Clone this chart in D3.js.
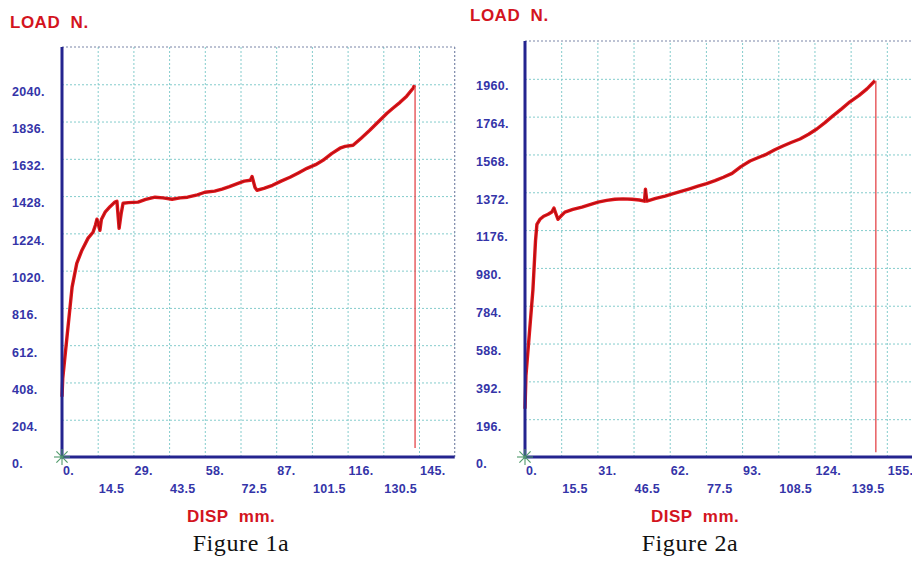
<!DOCTYPE html>
<html>
<head>
<meta charset="utf-8">
<script src="https://cdn.jsdelivr.net/npm/d3@7/dist/d3.min.js"></script>
<style>
  html, body { margin: 0; padding: 0; background: #ffffff; }
  svg { display: block; }
</style>
</head>
<body>
<svg id="chart" width="912" height="561"></svg>
<script>
// ---------- DATA ----------
// Figure 1a
const fig1Disp = [0, 0.3, 4.1, 6, 8.1, 10.6, 12.6, 13.6, 14.2, 15.4, 16, 17.5, 19.5, 21.5, 22.3, 23.2, 24, 24.8, 27, 30.9,
  34, 37.8, 41, 44.7, 48, 51, 55, 58, 62, 65, 68, 71.5, 74, 76.5, 77.2, 78.4, 79.2, 82, 85.5, 89,
  92.6, 96, 99.5, 103, 106, 109.5, 112.9, 115, 118.2, 121.5, 125, 128.5, 132, 134.5, 137.3, 140, 142.6, 143.2];
const fig1Load = [330, 430, 930, 1060, 1132, 1198, 1230, 1270, 1302, 1241, 1300, 1340, 1370, 1395, 1400, 1252, 1330, 1389, 1392, 1395,
  1410, 1422, 1418, 1411, 1418, 1422, 1435, 1449, 1455, 1466, 1480, 1498, 1510, 1515, 1535, 1475, 1460, 1470, 1487, 1510,
  1531, 1555, 1580, 1600, 1624, 1660, 1690, 1700, 1706, 1745, 1788, 1835, 1881, 1910, 1941, 1975, 2018, 2035];
const fig1DropDisp = [143.4, 143.4];
const fig1DropLoad = [2035, 49];
const fig1XTicks = [0, 14.5, 29, 43.5, 58, 72.5, 87, 101.5, 116, 130.5, 145];
const fig1YTicks = [0, 204, 408, 612, 816, 1020, 1224, 1428, 1632, 1836, 2040];
const fig1XMax = 159.5, fig1YMax = 2244;

// Figure 2a
const fig2Disp = [0, 0.4, 3.4, 4.5, 5.1, 6.4, 8, 9.9, 11.5, 12.4, 13.2, 14.1, 15.5, 17.1, 20.5, 24.4, 27.8, 31.3, 35, 38.5,
  42, 45.8, 49, 51.2, 51.6, 52.2, 56, 60, 63.5, 67.2, 70.5, 74.1, 77.8, 81.4, 85, 88.7, 92.5, 96.4, 100, 103.6,
  107, 110.5, 114, 117.8, 121.5, 125, 128.5, 131.9, 135.5, 139.2, 143, 146.5, 149.9];
const fig2Load = [250, 420, 868, 1120, 1206, 1232, 1248, 1258, 1270, 1290, 1262, 1232, 1250, 1269, 1283, 1295, 1308, 1321, 1330, 1336,
  1338, 1336, 1332, 1326, 1388, 1326, 1340, 1352, 1365, 1378, 1390, 1404, 1417, 1432, 1450, 1470, 1505, 1534, 1552, 1570,
  1592, 1612, 1630, 1648, 1673, 1700, 1733, 1768, 1803, 1841, 1873, 1908, 1950];
const fig2DropDisp = [150.3, 150.3];
const fig2DropLoad = [1950, 25];
const fig2XTicks = [0, 15.5, 31, 46.5, 62, 77.5, 93, 108.5, 124, 139.5, 155];
const fig2YTicks = [0, 196, 392, 588, 784, 980, 1176, 1372, 1568, 1764, 1960];
const fig2XMax = 170.5, fig2YMax = 2156;

const yTitle = "LOAD  N.";
const xTitle = "DISP  mm.";
const captions = ["Figure 1a", "Figure 2a"];

// ---------- DRAW ----------
const svg = d3.select("#chart");
const fmt = v => Number.isInteger(v) ? v + "." : String(v);

const AXIS = "#24248f", TICK = "#3434a8", RED = "#d3141e", GRID = "#84cccc";
const SANS = "Arial, 'Liberation Sans', sans-serif";

function panel(cfg) {
  const x = d3.scaleLinear().domain([0, cfg.xMax]).range([cfg.left, cfg.right]);
  const y = d3.scaleLinear().domain([0, cfg.yMax]).range([cfg.bottom, cfg.top]);
  const g = svg.append("g");

  // grid via d3 axes
  g.append("g").attr("transform", `translate(0,${cfg.bottom})`)
    .call(d3.axisBottom(x).tickValues(cfg.xTicks.slice(1)).tickSize(-(cfg.bottom - cfg.top)).tickFormat(""))
    .call(a => a.select(".domain").remove())
    .call(a => a.selectAll("line").attr("stroke", GRID).attr("stroke-dasharray", "2,2").attr("stroke-width", 1));
  g.append("g").attr("transform", `translate(${cfg.left},0)`)
    .call(d3.axisLeft(y).tickValues(cfg.yTicks.slice(1)).tickSize(-(cfg.right - cfg.left)).tickFormat(""))
    .call(a => a.select(".domain").remove())
    .call(a => a.selectAll("line").attr("stroke", GRID).attr("stroke-dasharray", "2,2").attr("stroke-width", 1));

  // top & right dotted border
  g.append("line").attr("x1", x(0)).attr("x2", x(cfg.xMax)).attr("y1", y(cfg.yMax)).attr("y2", y(cfg.yMax))
    .attr("stroke", "#7a86a8").attr("stroke-dasharray", "2,2").attr("stroke-width", 1.2);
  g.append("line").attr("x1", x(cfg.xMax)).attr("x2", x(cfg.xMax)).attr("y1", y(cfg.yMax)).attr("y2", y(0))
    .attr("stroke", "#7a86a8").attr("stroke-dasharray", "2,2").attr("stroke-width", 1.2);

  // curve
  const pts = cfg.disp.map((d, i) => [d, cfg.load[i]]);
  const line = d3.line().x(d => x(d[0])).y(d => y(d[1]));
  g.append("path").datum(pts).attr("d", line).attr("fill", "none")
    .attr("stroke", "#e0161c").attr("stroke-width", 3.4).attr("stroke-linejoin", "round");
  g.append("path").datum(pts).attr("d", line).attr("fill", "none")
    .attr("stroke", "#8a0808").attr("stroke-width", 0.9).attr("stroke-opacity", 0.7);
  const drop = cfg.dropDisp.map((d, i) => [d, cfg.dropLoad[i]]);
  g.append("path").datum(drop).attr("d", line).attr("fill", "none")
    .attr("stroke", "#e4464a").attr("stroke-width", 1.3);

  // axes lines
  g.append("line").attr("x1", x(0)).attr("x2", x(cfg.xMax)).attr("y1", y(0)).attr("y2", y(0))
    .attr("stroke", AXIS).attr("stroke-width", 3);
  g.append("line").attr("x1", x(0)).attr("x2", x(0)).attr("y1", y(0) + 1.5).attr("y2", y(cfg.yMax))
    .attr("stroke", AXIS).attr("stroke-width", 3);

  // origin star
  const ox = x(0), oy = y(0), r = 8;
  [[r, 0], [0, r], [r * 0.7, r * 0.7], [r * 0.7, -r * 0.7]].forEach(([dx, dy]) => {
    g.append("line").attr("x1", ox - dx).attr("x2", ox + dx).attr("y1", oy - dy).attr("y2", oy + dy)
      .attr("stroke", "#4f9a6a").attr("stroke-width", 1.1);
  });

  // y tick labels
  g.selectAll(".yl").data(cfg.yTicks).enter().append("text")
    .attr("x", cfg.yLabelX).attr("y", d => y(d) + 7).attr("dy", "0.35em")
    .attr("font-family", SANS).attr("font-weight", "bold")
    .attr("font-size", 12.5).attr("letter-spacing", 0.3).attr("fill", TICK).text(fmt);

  // x tick labels (two staggered rows, left-aligned at grid)
  g.selectAll(".xl").data(cfg.xTicks).enter().append("text")
    .attr("x", d => x(d) + 1).attr("y", (d, i) => i % 2 === 0 ? 471 : 489).attr("dy", "0.35em")
    .attr("font-family", SANS).attr("font-weight", "bold")
    .attr("font-size", 12.5).attr("letter-spacing", 0.3).attr("fill", TICK).text(fmt);

  // titles
  g.append("text").attr("x", cfg.yTitleX).attr("y", cfg.yTitleY).attr("dy", "0.35em")
    .attr("font-family", SANS).attr("font-weight", "bold").attr("letter-spacing", 0.5)
    .attr("font-size", 17).attr("fill", RED).style("white-space", "pre").text(yTitle);
  g.append("text").attr("x", cfg.xTitleX).attr("y", 516).attr("dy", "0.35em")
    .attr("font-family", SANS).attr("font-weight", "bold").attr("letter-spacing", 0.5)
    .attr("font-size", 17).attr("fill", RED).style("white-space", "pre").text(xTitle);
  g.append("text").attr("x", cfg.capX).attr("y", 543).attr("dy", "0.35em").attr("text-anchor", "middle")
    .attr("font-family", "'Times New Roman', 'Liberation Serif', serif").attr("letter-spacing", 0.6)
    .attr("font-size", 24).attr("fill", "#111").text(cfg.caption);
}

panel({
  disp: fig1Disp, load: fig1Load, dropDisp: fig1DropDisp, dropLoad: fig1DropLoad,
  xTicks: fig1XTicks, yTicks: fig1YTicks, xMax: fig1XMax, yMax: fig1YMax,
  left: 62, right: 454.7, top: 47, bottom: 457,
  yLabelX: 12, yTitleX: 10, yTitleY: 22, xTitleX: 187, capX: 241, caption: captions[0]
});
panel({
  disp: fig2Disp, load: fig2Load, dropDisp: fig2DropDisp, dropLoad: fig2DropLoad,
  xTicks: fig2XTicks, yTicks: fig2YTicks, xMax: fig2XMax, yMax: fig2YMax,
  left: 525, right: 923, top: 41, bottom: 457,
  yLabelX: 476, yTitleX: 470, yTitleY: 15, xTitleX: 651, capX: 690, caption: captions[1]
});
</script>
</body>
</html>
